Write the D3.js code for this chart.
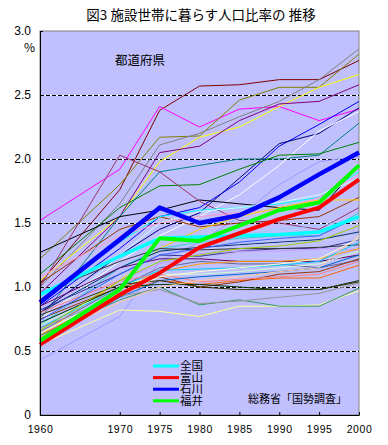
<!DOCTYPE html>
<html>
<head>
<meta charset="utf-8">
<script src="https://cdn.jsdelivr.net/npm/d3@7"></script>
<style>
  body { margin: 0; background: #fff; }
  svg { display: block; font-family: "Noto Sans CJK JP", "Noto Sans", sans-serif; }
</style>
</head>
<body>
<div id="chart"></div>
<script>
// census years on the x axis
const years = [1960, 1970, 1975, 1980, 1985, 1990, 1995, 2000];
const yTicks = [0, 0.5, 1.0, 1.5, 2.0, 2.5, 3.0];

// highlighted series (% of population living in institutional households)
const zenkoku  = [0.94, 1.24, 1.38, 1.39, 1.40, 1.41, 1.43, 1.55];
const toyama   = [0.55, 0.94, 1.11, 1.31, 1.42, 1.53, 1.62, 1.84];
const ishikawa = [0.88, 1.37, 1.62, 1.50, 1.56, 1.70, 1.88, 2.05];
const fukui    = [0.58, 0.98, 1.38, 1.36, 1.48, 1.60, 1.66, 1.95];
const legendNames = ["全国", "富山", "石川", "福井"];

// the other 44 prefectures, drawn as thin unlabelled lines
const otherPrefs = [
  [1.03, 1.76, 2.38, 2.57, 2.58, 2.62, 2.62, 2.77],
  [1.52, 1.92, 2.41, 2.25, 2.39, 2.41, 2.30, 2.39],
  [1.22, 1.80, 2.17, 2.18, 2.46, 2.56, 2.56, 2.82],
  [1.00, 1.65, 2.11, 2.20, 2.33, 2.45, 2.62, 2.86],
  [1.05, 1.55, 1.98, 2.17, 2.25, 2.41, 2.56, 2.66],
  [0.95, 1.55, 2.05, 2.10, 2.30, 2.43, 2.45, 2.58],
  [0.75, 1.55, 1.90, 1.95, 2.00, 2.00, 2.03, 2.28],
  [0.85, 1.30, 1.55, 1.62, 1.82, 2.10, 2.27, 2.45],
  [0.80, 1.25, 1.45, 1.58, 1.85, 2.12, 2.20, 2.40],
  [0.75, 1.20, 1.40, 1.55, 1.72, 1.95, 2.22, 2.37],
  [1.10, 1.62, 1.79, 1.80, 1.92, 2.03, 2.04, 2.13],
  [0.43, 0.77, 1.20, 1.35, 1.55, 1.80, 1.98, 2.02],
  [1.27, 1.55, 1.60, 1.68, 1.65, 1.62, 1.60, 1.95],
  [1.03, 1.45, 1.55, 1.47, 1.50, 1.52, 1.55, 1.70],
  [1.00, 2.03, 1.90, 1.67, 1.52, 1.50, 1.45, 1.62],
  [0.90, 1.35, 1.55, 1.60, 1.62, 1.65, 1.70, 1.90],
  [0.70, 1.25, 1.50, 1.59, 1.62, 1.66, 1.72, 1.85],
  [1.08, 1.40, 1.50, 1.55, 1.58, 1.60, 1.70, 1.88],
  [0.62, 1.05, 1.30, 1.45, 1.55, 1.62, 1.68, 1.68],
  [0.70, 1.15, 1.30, 1.35, 1.38, 1.40, 1.40, 1.58],
  [0.72, 1.10, 1.28, 1.35, 1.40, 1.45, 1.48, 1.53],
  [0.80, 1.15, 1.28, 1.31, 1.33, 1.35, 1.37, 1.43],
  [0.75, 1.08, 1.20, 1.29, 1.32, 1.34, 1.36, 1.40],
  [0.82, 1.10, 1.25, 1.24, 1.28, 1.30, 1.30, 1.37],
  [0.95, 1.20, 1.30, 1.29, 1.30, 1.30, 1.31, 1.33],
  [0.78, 1.05, 1.18, 1.26, 1.28, 1.28, 1.30, 1.29],
  [0.85, 1.15, 1.22, 1.22, 1.20, 1.20, 1.20, 1.25],
  [0.65, 1.00, 1.15, 1.20, 1.18, 1.18, 1.15, 1.21],
  [0.60, 0.98, 1.12, 1.18, 1.20, 1.20, 1.22, 1.30],
  [0.62, 0.95, 1.05, 1.02, 1.05, 1.07, 1.07, 1.17],
  [0.75, 1.00, 1.08, 1.00, 1.04, 1.10, 1.12, 1.22],
  [0.68, 1.00, 1.13, 1.14, 1.15, 1.17, 1.20, 1.35],
  [0.70, 1.00, 1.10, 1.10, 1.12, 1.15, 1.18, 1.28],
  [0.80, 1.05, 1.10, 1.04, 1.06, 1.08, 1.10, 1.20],
  [0.58, 0.92, 1.05, 1.08, 1.10, 1.12, 1.15, 1.25],
  [0.72, 1.00, 1.02, 1.02, 1.00, 0.98, 0.98, 1.05],
  [0.78, 1.02, 1.05, 1.00, 0.98, 0.98, 0.98, 1.04],
  [0.55, 0.82, 0.81, 0.77, 0.85, 0.85, 0.86, 0.97],
  [0.62, 0.90, 1.00, 0.86, 0.90, 0.85, 0.85, 0.99],
  [0.68, 0.93, 0.98, 0.87, 0.89, 0.92, 0.95, 1.03],
  [0.60, 0.88, 1.00, 1.05, 1.08, 1.12, 1.15, 1.40],
  [0.74, 1.10, 1.25, 1.30, 1.35, 1.38, 1.40, 1.55],
  [0.66, 1.05, 1.20, 1.25, 1.30, 1.32, 1.36, 1.48],
  [0.64, 0.95, 1.08, 1.12, 1.15, 1.18, 1.22, 1.38]
];

// line colours (Excel style palette), same order as otherPrefs
const otherColors = [
  "#800000", "#ff00ff", "#808000", "#808080", "#ffff00", "#800080", "#008080", "#0000ff",
  "#000080", "#ffffff", "#008000", "#9999ff", "#000000", "#993300", "#993366", "#00ffff",
  "#ccffff", "#ff99cc", "#ffcc00", "#33cccc", "#99ccff", "#003366", "#ccccff", "#333399",
  "#333333", "#cc99ff", "#660066", "#666699", "#ff9900", "#ff6600", "#993300", "#00ccff",
  "#ccffcc", "#ff8080", "#0066cc", "#003300", "#333300", "#ffff99", "#339966", "#969696",
  "#ffcc99", "#3366ff", "#99cc00", "#ffffcc"
];
const highlightColors = ["#00ffff", "#ff0000", "#0000ff", "#00ff00"];

const width = 388;
const height = 445;
const plot = {left: 40, right: 359, top: 31, bottom: 415};

const svg = d3.select("#chart").append("svg")
    .attr("width", width)
    .attr("height", height);

const x = d3.scaleLinear()
    .domain([1960, 2000])
    .range([plot.left, plot.right]);
const y = d3.scaleLinear()
    .domain([0, 3])
    .range([plot.bottom, plot.top]);

// title
svg.append("text")
    .attr("x", 201)
    .attr("y", 20)
    .attr("text-anchor", "middle")
    .style("font-size", "13.5px")
    .text("図3 施設世帯に暮らす人口比率の 推移");

// plot background + frame
svg.append("rect")
    .attr("x", plot.left)
    .attr("y", plot.top)
    .attr("width", plot.right - plot.left)
    .attr("height", plot.bottom - plot.top)
    .style("fill", "#c0c0ff")
    .style("stroke", "#808080")
    .style("stroke-width", 1);

// dashed grid lines (black dashes on white)
const grid = svg.append("g");
yTicks.filter(d => d > 0 && d < 3).forEach(function(d) {
    grid.append("line")
        .attr("x1", plot.left).attr("x2", plot.right)
        .attr("y1", y(d)).attr("y2", y(d))
        .style("stroke", "#ffffff")
        .style("shape-rendering", "crispEdges");
    grid.append("line")
        .attr("x1", plot.left).attr("x2", plot.right)
        .attr("y1", y(d)).attr("y2", y(d))
        .style("stroke", "#000000")
        .style("stroke-dasharray", "4,2")
        .style("shape-rendering", "crispEdges");
});

const line = d3.line()
    .x((d, i) => x(years[i]))
    .y(d => y(d));

// thin prefecture lines
svg.append("g")
    .selectAll("path")
    .data(otherPrefs)
    .enter()
    .append("path")
    .attr("d", line)
    .style("fill", "none")
    .style("stroke", (d, i) => otherColors[i % otherColors.length])
    .style("stroke-width", 1);

// thick highlighted lines
const highlight = [zenkoku, toyama, ishikawa, fukui];
const highlightWidths = [3.5, 4, 4.5, 4];
svg.append("g")
    .selectAll("path")
    .data(highlight)
    .enter()
    .append("path")
    .attr("d", line)
    .style("fill", "none")
    .style("stroke", (d, i) => highlightColors[i])
    .style("stroke-width", (d, i) => highlightWidths[i])
    .style("stroke-linejoin", "round");

// axes
const xAxis = d3.axisBottom(x)
    .tickValues(years)
    .tickSizeInner(-3)
    .tickSizeOuter(0)
    .tickPadding(11)
    .tickFormat(d3.format("d"));

svg.append("g")
    .attr("transform", "translate(0," + plot.bottom + ")")
    .call(xAxis)
    .call(g => g.selectAll("text").style("font-size", "10.5px").style("letter-spacing", "0.6px").style("fill", "#000"))
    .call(g => g.selectAll("line, path").style("stroke", "#000"));

const yAxis = d3.axisLeft(y)
    .tickValues(yTicks)
    .tickSizeInner(-3)
    .tickSizeOuter(0)
    .tickPadding(9)
    .tickFormat(d => d == 0 ? "0" : d.toFixed(1));

svg.append("g")
    .attr("transform", "translate(" + plot.left + ",0)")
    .call(yAxis)
    .call(g => g.selectAll("text").style("font-size", "12px").style("fill", "#000"))
    .call(g => g.selectAll("line, path").style("stroke", "#000"));

svg.append("text")
    .attr("x", 35)
    .attr("y", 52)
    .attr("text-anchor", "end")
    .style("font-size", "12px")
    .text("%");

svg.append("text")
    .attr("x", 115)
    .attr("y", 65)
    .style("font-size", "12.5px")
    .text("都道府県");

// legend (rows are packed tightly, as in the original)
const legend = svg.append("g");
legendNames.forEach(function(name, i) {
    const ly = 366 + i * 11.6;
    legend.append("line")
        .attr("x1", 153).attr("x2", 179)
        .attr("y1", ly).attr("y2", ly)
        .style("stroke", highlightColors[i])
        .style("stroke-width", 3);
    legend.append("text")
        .attr("x", 180)
        .attr("y", ly)
        .attr("dy", "0.36em")
        .style("font-size", "11.5px")
        .text(name);
});

svg.append("text")
    .attr("x", 248)
    .attr("y", 403)
    .style("font-size", "11px")
    .text("総務省「国勢調査」");
</script>
</body>
</html>
